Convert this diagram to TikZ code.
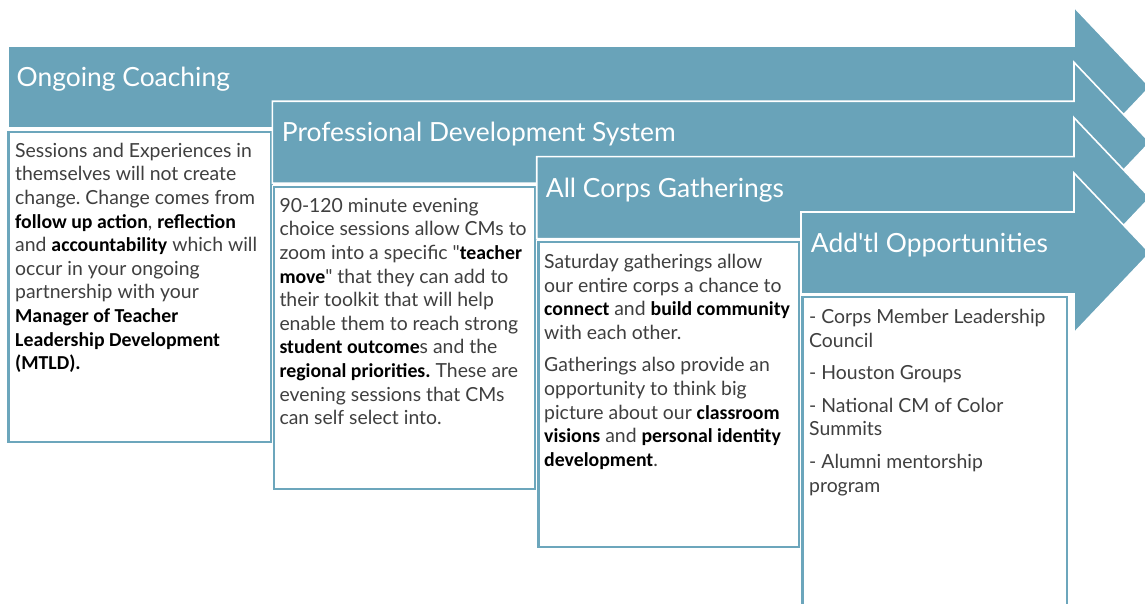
\documentclass[tikz,border=0pt]{standalone}
\usepackage{fontspec}
\setmainfont{Lato}
\newfontfamily\calfont{Carlito}[Scale=1.02]
\frenchspacing

\definecolor{arrowblue}{HTML}{69A3B9}
\definecolor{boxblue}{HTML}{6CA6BC}
\definecolor{bodygrey}{HTML}{3F3F3F}

% emphasised words in the body text
\newcommand\kw[1]{{\calfont\bfseries\color{black}#1}}

% one arrow band: left edge, top of the band
\newcommand\arrowband[2]{%
  \draw[arrowshape] (#1,#2) -- (1074,#2) -- (1074,#2-39) -- (1150,#2+41)
    -- (1074,#2+121) -- (1074,#2+82) -- (#1,#2+82) -- cycle;}

\tikzset{
  arrowshape/.style={fill=arrowblue, draw=white, line width=1.6pt, line join=miter},
  boxshape/.style={preaction={draw=white, line width=4.4pt},
                   fill=white, draw=boxblue, line width=2.2pt},
  headtext/.style={anchor=base west, inner sep=0pt, text=white,
                   font=\fontsize{26.4}{32}\selectfont},
  bodytext/.style={anchor=north west, inner sep=0pt, align=left, text=bodygrey,
                   font=\fontsize{19.4}{23.6}\selectfont},
}

\begin{document}
\begin{tikzpicture}[x=1pt,y=-1pt]
\path[use as bounding box] (0,0) rectangle (1145,604);
\clip (0,0) rectangle (1145,604);

% stage 1
\arrowband{8}{46}
\path[boxshape] (8.5,132) rectangle (271.5,442);
% stage 2
\arrowband{272.3}{101.3}
\path[boxshape] (274,187) rectangle (535.5,489);
% stage 3
\arrowband{536.7}{156.7}
\path[boxshape] (538.5,242) rectangle (799.5,547);
% stage 4
\arrowband{801}{212}
\path[boxshape] (802.5,297) rectangle (1067,640);

% titles
\node[headtext] (h1) at (16.5,87) {Ongoing Coaching};
\node[headtext] (h2) at (281.7,142) {Professional Development System};
\node[headtext] (h3) at (545.7,197.5) {All Corps Gatherings};
\node[headtext] (h4) at (810.7,252.7) {Add\textquotesingle tl Opportunities};

% descriptions
\node[bodytext] (t1) at (15,139) {\rule{0pt}{18pt}Sessions and Experiences in\\
themselves will not create\\
change. Change comes from\\
\kw{follow up action}, \kw{reflection}\\
and \kw{accountability} which will\\
occur in your ongoing\\
partnership with your\\
\kw{Manager of Teacher}\\
\kw{Leadership Development}\\
\kw{(MTLD).}};

\node[bodytext] (t2) at (279.3,194) {\rule{0pt}{18pt}90-120 minute evening\\
choice sessions allow CMs to\\
zoom into a specific \textquotedbl\kw{teacher}\\
\kw{move}\textquotedbl{} that they can add to\\
their toolkit that will help\\
enable them to reach strong\\
\kw{student outcome}s and the\\
\kw{regional priorities.} These are\\
evening sessions that CMs\\
can self select into.};

\node[bodytext] (t3) at (544,250.3) {\rule{0pt}{18pt}Saturday gatherings allow\\
our entire corps a chance to\\
\kw{connect} and \kw{build community}\\
with each other.\\[9pt]
Gatherings also provide an\\
opportunity to think big\\
picture about our \kw{classroom}\\
\kw{visions} and \kw{personal identity}\\
\kw{development}.};

\node[bodytext] (t4) at (809,305.3) {\rule{0pt}{18pt}- Corps Member Leadership\\
Council\\[9pt]
- Houston Groups\\[9pt]
- National CM of Color\\
Summits\\[9pt]
- Alumni mentorship\\
program};
\end{tikzpicture}
\end{document}
